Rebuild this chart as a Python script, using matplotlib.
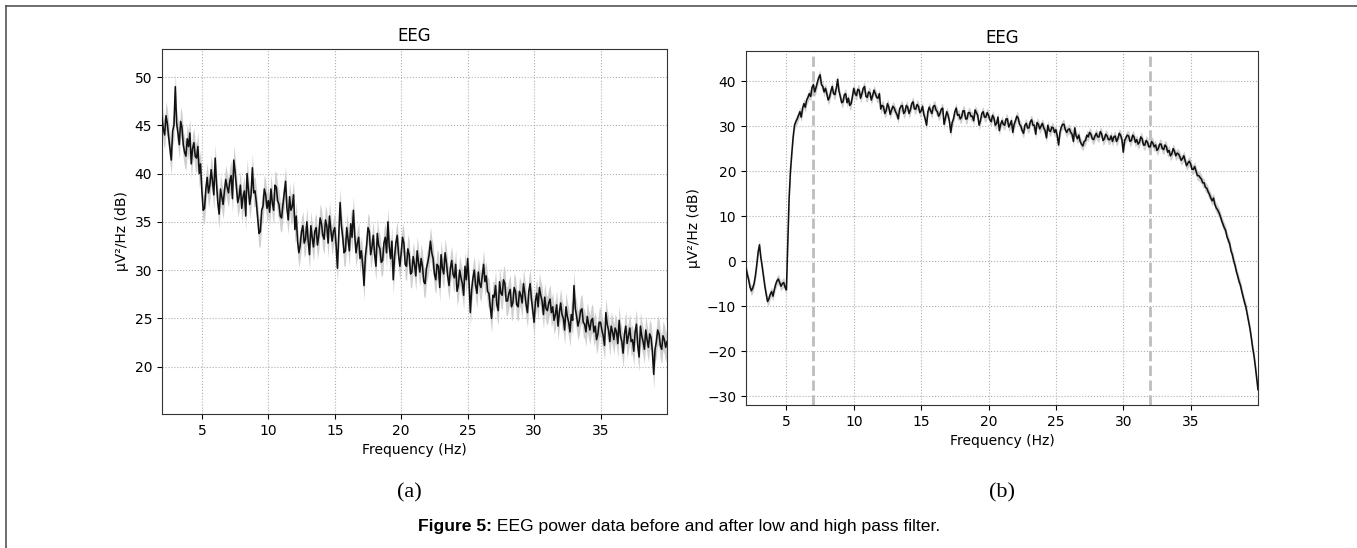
import numpy as np
import matplotlib
matplotlib.use("Agg")
import matplotlib.pyplot as plt
from matplotlib.lines import Line2D

# ---------------- data (dB, read every 0.1 Hz from 2 to 40 Hz) ----------------
freq_start, freq_stop = 2.0, 40.0

psd_before = [
    45.8, 44.6, 44.0, 46.0, 45.2, 43.8, 42.6, 41.4, 44.4, 45.0,   # 2 Hz
    49.0, 45.2, 44.2, 43.0, 45.4, 44.8, 43.0, 42.2, 41.8, 43.6,   # 3
    42.8, 44.2, 41.0, 42.6, 43.2, 41.8, 41.6, 42.8, 40.0, 41.0,   # 4
    38.2, 36.2, 36.4, 38.4, 39.6, 38.0, 38.8, 40.4, 39.2, 37.8,   # 5
    41.6, 39.0, 37.0, 35.8, 38.4, 37.6, 36.8, 38.2, 39.4, 38.6,   # 6
    38.0, 39.2, 39.8, 37.4, 41.4, 40.2, 38.6, 37.0, 37.6, 38.8,   # 7
    36.4, 37.6, 38.2, 35.6, 40.0, 38.4, 36.8, 37.8, 40.6, 38.0,   # 8
    38.2, 37.0, 35.4, 33.8, 34.0, 36.2, 36.6, 38.4, 37.8, 36.4,   # 9
    37.2, 36.0, 38.4, 37.0, 36.2, 38.8, 38.6, 37.2, 36.8, 35.6,   # 10
    35.4, 36.8, 38.0, 39.2, 36.4, 35.2, 37.6, 36.2, 36.6, 37.8,   # 11
    34.2, 35.6, 33.0, 31.8, 32.6, 34.0, 34.6, 32.8, 33.2, 35.0,   # 12
    33.0, 31.6, 34.6, 33.4, 32.4, 34.0, 34.4, 32.6, 33.6, 35.4,   # 13
    34.8, 33.6, 33.2, 35.2, 34.6, 32.8, 35.6, 34.2, 33.0, 34.0,   # 14
    34.4, 32.6, 30.2, 33.6, 37.0, 34.6, 33.4, 31.8, 32.0, 34.4,   # 15
    33.2, 32.0, 34.8, 33.4, 36.2, 33.6, 31.8, 32.8, 33.4, 31.2,   # 16
    32.0, 30.6, 28.4, 31.4, 32.6, 34.4, 34.0, 31.6, 32.4, 33.6,   # 17
    31.6, 30.4, 33.8, 32.6, 32.2, 30.8, 31.0, 32.8, 33.4, 31.8,   # 18
    35.0, 32.4, 31.2, 33.0, 29.0, 31.4, 32.8, 33.6, 31.6, 30.4,   # 19
    31.8, 33.4, 32.8, 30.6, 30.4, 32.2, 31.6, 29.6, 29.8, 31.4,   # 20
    30.6, 29.4, 32.0, 30.8, 29.8, 31.2, 30.4, 28.8, 28.6, 30.2,   # 21
    30.8, 31.6, 33.0, 31.8, 31.2, 29.6, 29.0, 30.6, 30.4, 28.2,   # 22
    31.6, 30.2, 29.6, 31.8, 30.8, 29.4, 28.4, 30.2, 31.0, 29.6,   # 23
    29.2, 30.6, 27.8, 28.4, 30.0, 29.2, 28.6, 27.4, 30.4, 29.0,   # 24
    31.2, 28.8, 25.6, 28.0, 29.2, 30.0, 28.4, 27.6, 29.8, 28.6,   # 25
    28.2, 29.4, 30.6, 28.8, 29.4, 27.8, 27.6, 26.2, 25.0, 27.4,   # 26
    27.2, 28.4, 26.4, 25.8, 28.8, 27.6, 27.4, 29.0, 28.6, 26.8,   # 27
    26.8, 27.6, 28.0, 26.2, 26.6, 28.2, 27.8, 26.4, 26.2, 27.8,   # 28
    27.4, 26.6, 28.6, 27.6, 26.4, 25.6, 27.8, 28.6, 27.0, 25.8,   # 29
    24.6, 26.8, 27.6, 26.2, 28.2, 27.4, 26.8, 25.4, 27.2, 26.0,   # 30
    25.8, 26.6, 27.0, 25.6, 26.2, 24.8, 25.4, 26.4, 24.2, 25.6,   # 31
    26.6, 25.4, 25.0, 23.8, 26.2, 25.2, 24.6, 23.6, 25.4, 24.8,   # 32
    28.4, 26.0, 25.2, 24.2, 24.8, 25.8, 26.0, 24.6, 24.4, 23.6,   # 33
    25.2, 24.4, 23.8, 24.8, 25.0, 23.6, 24.2, 22.8, 23.4, 24.6,   # 34
    24.6, 23.8, 23.2, 22.2, 25.6, 24.4, 23.8, 22.6, 24.2, 23.6,   # 35
    22.8, 24.0, 23.6, 22.4, 24.8, 23.2, 22.6, 21.4, 23.4, 24.2,   # 36
    22.4, 23.2, 24.0, 22.6, 22.8, 21.6, 23.6, 24.4, 22.2, 21.0,   # 37
    24.2, 23.2, 22.6, 21.8, 23.8, 22.8, 22.0, 23.4, 23.0, 21.6,   # 38
    19.2, 21.8, 22.6, 23.8, 23.4, 22.2, 21.8, 23.2, 22.8, 22.0,   # 39
    22.6,                                                         # 40
]

psd_after = [
    -1.6, -3.0, -4.2, -5.8, -6.6, -6.0, -5.0, -3.2, -0.8, 2.0,    # 2 Hz
    3.6, 0.8, -1.2, -3.4, -5.6, -7.4, -9.0, -8.4, -7.4, -6.8,     # 3
    -7.8, -6.4, -5.2, -4.4, -4.0, -4.8, -5.6, -5.0, -4.8, -5.8,   # 4
    -6.4, 4.0, 14.0, 20.0, 24.0, 27.6, 30.2, 31.0, 31.6, 32.4,    # 5
    33.2, 32.0, 34.0, 35.0, 34.2, 35.8, 36.4, 37.2, 36.6, 38.6,   # 6
    39.2, 37.6, 38.6, 39.8, 40.8, 41.4, 39.2, 38.8, 37.6, 38.4,   # 7
    37.2, 35.8, 36.4, 37.8, 38.8, 37.2, 37.0, 38.4, 40.4, 37.8,   # 8
    36.6, 35.2, 35.4, 37.0, 37.2, 35.2, 36.2, 34.6, 35.0, 36.6,   # 9
    38.4, 37.2, 36.8, 38.2, 38.0, 36.2, 37.2, 38.4, 38.8, 36.6,   # 10
    36.4, 37.6, 37.4, 35.8, 36.8, 38.0, 37.2, 36.4, 36.2, 37.2,   # 11
    33.8, 34.6, 34.4, 32.8, 33.4, 35.0, 34.2, 32.6, 33.6, 34.4,   # 12
    34.0, 33.2, 32.6, 31.6, 33.8, 34.4, 34.6, 32.8, 33.2, 34.6,   # 13
    34.2, 32.8, 33.6, 35.0, 35.4, 33.8, 33.8, 34.8, 34.4, 33.0,   # 14
    33.4, 34.4, 32.6, 31.6, 30.2, 33.2, 34.2, 33.4, 32.8, 34.4,   # 15
    34.6, 33.6, 33.2, 32.2, 32.8, 33.8, 34.0, 30.4, 31.8, 33.2,   # 16
    32.4, 31.0, 28.6, 30.8, 31.6, 33.2, 34.0, 32.4, 32.6, 31.6,   # 17
    32.0, 33.4, 33.4, 31.6, 31.6, 33.0, 33.0, 32.2, 32.2, 31.2,   # 18
    33.6, 33.0, 32.4, 30.2, 31.2, 32.8, 33.2, 32.0, 32.0, 33.0,   # 19
    32.4, 31.4, 31.0, 32.4, 31.8, 30.2, 30.6, 32.0, 29.0, 30.4,   # 20
    31.2, 30.4, 30.2, 31.6, 31.6, 29.8, 30.4, 31.2, 28.6, 30.4,   # 21
    31.2, 32.2, 31.8, 30.4, 30.0, 29.0, 28.4, 30.2, 30.6, 29.6,   # 22
    29.6, 31.0, 31.4, 30.2, 30.2, 28.2, 30.8, 30.4, 29.4, 30.0,   # 23
    30.6, 29.6, 29.0, 27.4, 30.2, 29.0, 28.8, 29.8, 29.6, 28.6,   # 24
    29.2, 27.8, 25.8, 28.6, 29.8, 30.4, 30.4, 29.2, 28.6, 29.2,   # 25
    29.4, 28.6, 28.2, 26.6, 29.6, 27.8, 27.2, 28.0, 26.6, 26.0,   # 26
    25.6, 26.6, 26.8, 28.0, 27.6, 28.6, 28.2, 27.2, 27.0, 27.8,   # 27
    28.4, 27.6, 27.6, 28.8, 28.2, 26.8, 27.2, 28.2, 27.8, 27.0,   # 28
    27.0, 27.8, 26.6, 27.6, 27.8, 26.6, 27.2, 28.4, 28.0, 27.0,   # 29
    24.2, 26.8, 27.4, 28.0, 27.8, 26.6, 26.8, 28.0, 27.6, 26.4,   # 30
    27.0, 26.0, 26.4, 27.6, 27.2, 25.8, 25.8, 26.8, 26.4, 25.4,   # 31
    25.4, 26.6, 26.2, 25.4, 25.8, 24.6, 25.0, 26.0, 26.0, 25.0,   # 32
    24.8, 25.8, 25.4, 24.2, 24.6, 23.4, 23.8, 25.0, 24.4, 23.4,   # 33
    24.0, 23.8, 23.2, 22.4, 22.8, 23.4, 22.2, 21.2, 21.8, 22.2,   # 34
    21.6, 20.4, 20.4, 21.0, 20.0, 19.0, 19.0, 18.6, 18.2, 17.4,   # 35
    17.4, 16.4, 16.2, 15.4, 14.8, 14.0, 13.4, 14.0, 12.6, 11.8,   # 36
    11.4, 10.8, 10.0, 9.0, 8.2, 7.4, 6.8, 5.4, 4.6, 3.8,          # 37
    2.2, 1.4, 0.0, -1.0, -2.4, -3.4, -4.6, -5.4, -6.8, -8.0,      # 38
    -9.2, -10.2, -11.8, -13.4, -15.0, -17.0, -19.2, -21.0, -23.4, -26.0,  # 39
    -28.6,                                                        # 40
]

band_before = 1.5   # half-width of shaded spread (dB)
band_after = 1.1
filter_cutoffs = [7, 32]

x_ticks = [5, 10, 15, 20, 25, 30, 35]
y_ticks_before = [20, 25, 30, 35, 40, 45, 50]
y_ticks_after = [-30, -20, -10, 0, 10, 20, 30, 40]

title_text = "EEG"
xlabel_text = "Frequency (Hz)"
ylabel_text = "µV²/Hz (dB)"
caption_bold = "Figure 5:"
caption_rest = " EEG power data before and after low and high pass filter."

# ---------------- figure ----------------
W, H = 1357, 548
fig = plt.figure(figsize=(W / 100, H / 100), dpi=100)


def rect(x0, y0, x1, y1):
    return [x0 / W, 1 - y1 / H, (x1 - x0) / W, (y1 - y0) / H]


axL = fig.add_axes(rect(162, 49, 667, 414))
axR = fig.add_axes(rect(746, 51, 1258, 405))


def draw(ax, values, band, yticks, ylim):
    y = np.asarray(values, dtype=float)
    f = np.linspace(freq_start, freq_stop, len(y))
    ax.fill_between(f, y - band, y + band, color="#cfcfcf", lw=0, zorder=2)
    ax.plot(f, y, color="#111111", lw=1.15, zorder=3)
    ax.set_xlim(freq_start, freq_stop)
    ax.set_ylim(*ylim)
    ax.set_xticks(x_ticks)
    ax.set_yticks(yticks)
    ax.grid(True, linestyle=":", color="#b0b0b0", linewidth=0.8)
    ax.set_axisbelow(True)
    ax.set_title(title_text, fontsize=12)
    ax.set_xlabel(xlabel_text, fontsize=10)
    ax.set_ylabel(ylabel_text, fontsize=10)
    ax.tick_params(labelsize=10)
    for s in ax.spines.values():
        s.set_color("#333333")


draw(axL, psd_before, band_before, y_ticks_before, (15.1, 52.9))
draw(axR, psd_after, band_after, y_ticks_after, (-32.0, 46.7))
for c in filter_cutoffs:
    axR.axvline(c, color="#bdbdbd", ls="--", lw=2, zorder=2.5)

# sub-labels
fig.text(409 / W, 1 - 493 / H, "(a)", family="Liberation Serif",
         fontsize=16, ha="center", va="center")
fig.text(1002 / W, 1 - 493 / H, "(b)", family="Liberation Serif",
         fontsize=16, ha="center", va="center")

# caption (bold part + regular part, centred together)
renderer = fig.canvas.get_renderer()
t1 = fig.text(0, 1 - 527 / H, caption_bold, family="Liberation Sans",
              fontweight="bold", fontsize=12.6, ha="left", va="center")
t2 = fig.text(0, 1 - 527 / H, caption_rest, family="Liberation Sans",
              fontsize=12.6, ha="left", va="center")
w1 = t1.get_window_extent(renderer).width
w2 = t2.get_window_extent(renderer).width
x0 = 679 - (w1 + w2) / 2
t1.set_x(x0 / W)
t2.set_x((x0 + w1) / W)

# outer frame (top and left edges visible)
fig.add_artist(Line2D([6 / W, 1.0], [1 - 6 / H, 1 - 6 / H], color="#555555", lw=1.2))
fig.add_artist(Line2D([6 / W, 6 / W], [0.0, 1 - 6 / H], color="#555555", lw=1.2))

fig.savefig("out.png", dpi=100)
